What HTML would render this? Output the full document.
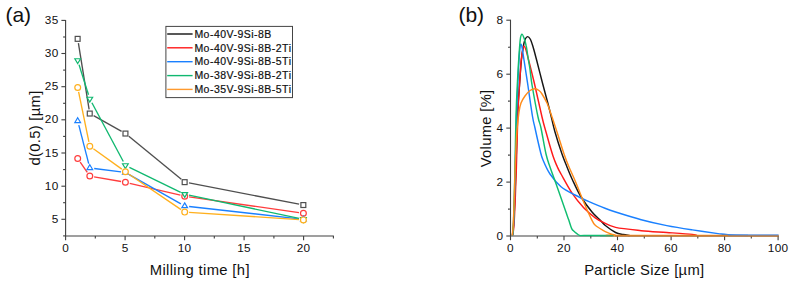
<!DOCTYPE html><html><head><meta charset="utf-8"><title>Milling time vs particle size</title>
<style>html,body{margin:0;padding:0;background:#fff}svg{display:block}text{font-family:"Liberation Sans",sans-serif;fill:#111}</style></head><body>
<svg width="793" height="285" viewBox="0 0 793 285">
<rect width="793" height="285" fill="#fff"/>
<g stroke="#404040" stroke-width="1.1" fill="none" shape-rendering="auto">
<path d="M65.6 19.9V236.0H333.85"/>
<path d="M61.4 219.3H65.6"/>
<path d="M61.4 186.2H65.6"/>
<path d="M61.4 153.0H65.6"/>
<path d="M61.4 119.8H65.6"/>
<path d="M61.4 86.7H65.6"/>
<path d="M61.4 53.5H65.6"/>
<path d="M61.4 20.4H65.6"/>
<path d="M63.1 235.9H65.6"/>
<path d="M63.1 202.7H65.6"/>
<path d="M63.1 169.6H65.6"/>
<path d="M63.1 136.4H65.6"/>
<path d="M63.1 103.3H65.6"/>
<path d="M63.1 70.1H65.6"/>
<path d="M63.1 37.0H65.6"/>
<path d="M65.6 236.0V240.2"/>
<path d="M125.1 236.0V240.2"/>
<path d="M184.6 236.0V240.2"/>
<path d="M244.1 236.0V240.2"/>
<path d="M303.6 236.0V240.2"/>
<path d="M95.3 236.0V238.5"/>
<path d="M154.8 236.0V238.5"/>
<path d="M214.3 236.0V238.5"/>
<path d="M273.9 236.0V238.5"/>
<path d="M333.4 236.0V238.5"/>
</g>
<g font-size="11.8" letter-spacing="0.35" text-anchor="end">
<text x="58.6" y="222.8">5</text>
<text x="58.6" y="189.7">10</text>
<text x="58.6" y="156.5">15</text>
<text x="58.6" y="123.3">20</text>
<text x="58.6" y="90.2">25</text>
<text x="58.6" y="57.0">30</text>
<text x="58.6" y="23.9">35</text>
</g>
<g font-size="11.8" letter-spacing="0.35" text-anchor="middle">
<text x="65.6" y="252.1">0</text>
<text x="125.1" y="252.1">5</text>
<text x="184.6" y="252.1">10</text>
<text x="244.1" y="252.1">15</text>
<text x="303.6" y="252.1">20</text>
</g>
<text x="199.8" y="274.6" font-size="14.8" letter-spacing="0.35" text-anchor="middle">Milling time [h]</text>
<text transform="translate(39.5 128.0) rotate(-90)" font-size="14.8" letter-spacing="0.3" text-anchor="middle">d(0.5) [µm]</text>
<text x="5.4" y="22.4" font-size="21">(a)</text>
<g stroke="#4f4f4f" stroke-width="1.35" fill="none" stroke-linecap="butt">
<path d="M78.4 43.2L89.1 109.3"/>
<path d="M93.6 115.7L121.6 131.4"/>
<path d="M128.8 136.3L181.3 179.3"/>
<path d="M189.0 182.9L299.1 204.2"/>
</g>
<g stroke="#4f4f4f" stroke-width="1.2" fill="#fff" stroke-linejoin="miter">
<rect x="75.2" y="36.4" width="4.9" height="4.9"/>
<rect x="87.3" y="111.1" width="4.9" height="4.9"/>
<rect x="123.0" y="131.1" width="4.9" height="4.9"/>
<rect x="182.2" y="179.7" width="4.9" height="4.9"/>
<rect x="300.9" y="202.6" width="4.9" height="4.9"/>
</g>
<g stroke="#ff3d3d" stroke-width="1.35" fill="none" stroke-linecap="butt">
<path d="M80.2 162.1L87.3 172.4"/>
<path d="M94.1 176.8L121.1 181.5"/>
<path d="M129.7 183.3L180.4 195.2"/>
<path d="M189.1 196.8L299.0 212.7"/>
</g>
<g stroke="#ff3d3d" stroke-width="1.2" fill="#fff" stroke-linejoin="miter">
<circle cx="77.7" cy="158.5" r="2.9"/>
<circle cx="89.8" cy="176.0" r="2.9"/>
<circle cx="125.4" cy="182.3" r="2.9"/>
<circle cx="184.7" cy="196.2" r="2.9"/>
<circle cx="303.4" cy="213.3" r="2.9"/>
</g>
<g stroke="#1a80ff" stroke-width="1.35" fill="none" stroke-linecap="butt">
<path d="M78.8 125.2L88.7 163.6"/>
<path d="M94.2 168.5L121.0 171.8"/>
<path d="M129.2 174.6L180.9 203.8"/>
<path d="M189.1 206.5L299.0 218.8"/>
</g>
<g stroke="#1a80ff" stroke-width="1.2" fill="#fff" stroke-linejoin="miter">
<path d="M77.7 117.75L80.55 122.55H74.85Z"/>
<path d="M89.8 164.75L92.65 169.55H86.95Z"/>
<path d="M125.4 169.25L128.25 174.05H122.55Z"/>
<path d="M184.7 202.85L187.55 207.65H181.85Z"/>
<path d="M303.4 216.15L306.25 220.95H300.55Z"/>
</g>
<g stroke="#10b870" stroke-width="1.35" fill="none" stroke-linecap="butt">
<path d="M79.0 64.6L88.5 94.7"/>
<path d="M91.9 102.8L123.3 161.5"/>
<path d="M129.4 167.3L180.7 192.3"/>
<path d="M189.0 195.1L299.1 218.4"/>
</g>
<g stroke="#10b870" stroke-width="1.2" fill="#fff" stroke-linejoin="miter">
<path d="M77.7 63.55L80.55 58.75H74.85Z"/>
<path d="M89.8 102.05L92.65 97.25H86.95Z"/>
<path d="M125.4 168.55L128.25 163.75H122.55Z"/>
<path d="M184.7 197.35L187.55 192.55H181.85Z"/>
<path d="M303.4 222.45L306.25 217.65H300.55Z"/>
</g>
<g stroke="#ffb01e" stroke-width="1.35" fill="none" stroke-linecap="butt">
<path d="M78.6 91.8L88.9 141.9"/>
<path d="M93.4 148.8L121.8 169.1"/>
<path d="M129.0 174.2L181.1 209.6"/>
<path d="M189.1 212.4L299.0 219.6"/>
</g>
<g stroke="#ffb01e" stroke-width="1.2" fill="#fff" stroke-linejoin="miter">
<circle cx="77.7" cy="87.5" r="2.9"/>
<circle cx="89.8" cy="146.2" r="2.9"/>
<circle cx="125.4" cy="171.7" r="2.9"/>
<circle cx="184.7" cy="212.1" r="2.9"/>
<circle cx="303.4" cy="219.9" r="2.9"/>
</g>
<rect x="166.8" y="27.3" width="127.2" height="71.6" fill="#9a9a9a" opacity="0"/>
<rect x="165.9" y="26.4" width="126.6" height="71.2" fill="#fff" stroke="#444" stroke-width="1"/>
<path d="M167.2 34.0H192.6" stroke="#111" stroke-width="1.4"/>
<text x="194.4" y="37.7" font-size="10.5" letter-spacing="0.48" stroke="#111" stroke-width="0.2">Mo-40V-9Si-8B</text>
<path d="M167.2 47.8H192.6" stroke="#ff1a1a" stroke-width="1.4"/>
<text x="194.4" y="51.5" font-size="10.5" letter-spacing="0.48" stroke="#111" stroke-width="0.2">Mo-40V-9Si-8B-2Ti</text>
<path d="M167.2 61.7H192.6" stroke="#1a80ff" stroke-width="1.4"/>
<text x="194.4" y="65.4" font-size="10.5" letter-spacing="0.48" stroke="#111" stroke-width="0.2">Mo-40V-9Si-8B-5Ti</text>
<path d="M167.2 75.6H192.6" stroke="#10b870" stroke-width="1.4"/>
<text x="194.4" y="79.3" font-size="10.5" letter-spacing="0.48" stroke="#111" stroke-width="0.2">Mo-38V-9Si-8B-2Ti</text>
<path d="M167.2 89.4H192.6" stroke="#ff9a2e" stroke-width="1.4"/>
<text x="194.4" y="93.1" font-size="10.5" letter-spacing="0.48" stroke="#111" stroke-width="0.2">Mo-35V-9Si-8B-5Ti</text>
<g stroke="#404040" stroke-width="1.1" fill="none">
<path d="M510.5 19.7V236.0H778.6"/>
<path d="M506.3 236.0H510.5"/>
<path d="M506.3 182.1H510.5"/>
<path d="M506.3 128.1H510.5"/>
<path d="M506.3 74.2H510.5"/>
<path d="M506.3 20.2H510.5"/>
<path d="M508.0 209.1H510.5"/>
<path d="M508.0 155.1H510.5"/>
<path d="M508.0 101.1H510.5"/>
<path d="M508.0 47.2H510.5"/>
<path d="M510.5 236.0V240.2"/>
<path d="M564.0 236.0V240.2"/>
<path d="M617.5 236.0V240.2"/>
<path d="M671.1 236.0V240.2"/>
<path d="M724.6 236.0V240.2"/>
<path d="M778.1 236.0V240.2"/>
<path d="M537.3 236.0V238.5"/>
<path d="M590.8 236.0V238.5"/>
<path d="M644.3 236.0V238.5"/>
<path d="M697.8 236.0V238.5"/>
<path d="M751.3 236.0V238.5"/>
</g>
<g font-size="11.8" letter-spacing="0.35" text-anchor="end">
<text x="503.5" y="239.5">0</text>
<text x="503.5" y="185.6">2</text>
<text x="503.5" y="131.6">4</text>
<text x="503.5" y="77.7">6</text>
<text x="503.5" y="23.7">8</text>
</g>
<g font-size="11.8" letter-spacing="0.35" text-anchor="middle">
<text x="510.5" y="252.4">0</text>
<text x="564.0" y="252.4">20</text>
<text x="617.5" y="252.4">40</text>
<text x="671.1" y="252.4">60</text>
<text x="724.6" y="252.4">80</text>
<text x="778.1" y="252.4">100</text>
</g>
<text x="644.3" y="274.6" font-size="14.8" letter-spacing="0.26" text-anchor="middle">Particle Size [µm]</text>
<text transform="translate(490.5 128.4) rotate(-90)" font-size="14.8" letter-spacing="0.3" text-anchor="middle">Volume [%]</text>
<text x="458.4" y="22.4" font-size="21">(b)</text>
<g fill="none" stroke-width="1.45" stroke-linejoin="round" stroke-linecap="butt">
<path d="M512.3 235.5C512.5 233.8 513.2 230.9 513.6 225.0C514.0 219.1 514.4 209.7 514.8 200.0C515.2 190.3 515.6 180.8 516.0 167.0C516.4 153.2 516.8 130.7 517.4 117.0C518.0 103.3 518.8 94.5 519.5 85.0C520.2 75.5 520.7 66.8 521.4 60.0C522.1 53.2 523.1 47.5 523.8 44.0C524.5 40.5 524.8 40.0 525.4 38.8C526.0 37.6 526.8 36.6 527.6 36.6C528.4 36.6 529.3 37.4 530.2 39.0C531.1 40.6 531.7 42.5 532.8 46.0C533.9 49.5 535.1 54.3 536.6 60.0C538.1 65.7 540.0 73.3 541.7 80.0C543.4 86.7 545.5 94.3 547.0 100.0C548.5 105.7 549.3 108.7 550.6 114.0C551.9 119.3 553.1 125.3 555.0 132.0C556.9 138.7 560.0 148.2 562.0 154.0C564.0 159.8 565.3 162.7 567.0 167.0C568.7 171.3 570.1 174.8 572.4 179.7C574.7 184.6 577.5 191.1 580.8 196.5C584.1 201.9 588.7 208.0 592.0 212.0C595.3 216.0 598.3 218.2 600.5 220.4C602.7 222.6 602.5 223.2 605.0 225.2C607.5 227.2 612.6 230.9 615.6 232.5C618.6 234.1 620.9 234.0 623.3 234.5C625.6 235.0 628.6 235.3 629.7 235.5" stroke="#161616"/>
<path d="M512.8 235.5C513.0 233.8 513.6 230.9 514.0 225.0C514.4 219.1 514.8 209.7 515.2 200.0C515.6 190.3 516.0 180.8 516.4 167.0C516.8 153.2 517.3 130.7 517.8 117.0C518.3 103.3 518.9 94.5 519.5 85.0C520.1 75.5 520.6 66.1 521.2 60.0C521.8 53.9 522.5 50.8 523.0 48.5C523.5 46.2 523.8 46.0 524.3 46.3C524.8 46.5 525.3 47.7 526.0 50.0C526.7 52.3 527.1 54.0 528.6 60.0C530.1 66.0 532.8 76.5 535.0 86.0C537.2 95.5 540.2 109.3 542.0 117.0C543.8 124.7 544.2 125.5 546.0 132.0C547.8 138.5 551.1 150.2 553.0 156.0C554.9 161.8 556.1 164.0 557.4 167.0C558.7 170.0 558.5 169.6 561.0 174.0C563.5 178.4 568.6 188.1 572.4 193.7C576.2 199.3 580.0 203.8 583.7 207.8C587.5 211.8 591.7 215.2 594.9 217.6C598.1 220.0 599.3 220.6 602.8 222.2C606.2 223.8 609.2 226.0 615.6 227.4C622.0 228.8 632.7 229.8 641.2 230.7C649.7 231.5 658.3 231.9 666.8 232.5C675.3 233.1 687.4 233.9 692.4 234.4C697.4 234.9 696.2 235.3 697.0 235.5" stroke="#ff1a1a"/>
<path d="M512.5 235.5C512.7 233.8 513.2 230.9 513.5 225.0C513.8 219.1 514.1 209.7 514.4 200.0C514.7 190.3 514.9 180.8 515.3 167.0C515.6 153.2 516.1 130.7 516.5 117.0C516.9 103.3 517.4 94.5 517.8 85.0C518.2 75.5 518.6 66.2 519.0 60.0C519.4 53.8 519.7 50.1 520.0 47.5C520.3 44.9 520.5 44.2 520.9 44.3C521.3 44.4 521.7 45.4 522.2 48.0C522.7 50.6 523.0 53.7 524.0 60.0C525.0 66.3 526.6 76.5 528.0 86.0C529.4 95.5 531.4 110.0 532.6 117.0C533.8 124.0 533.8 122.5 535.0 128.0C536.2 133.5 538.7 144.7 540.0 150.0C541.3 155.3 541.3 156.0 543.0 160.0C544.7 164.0 547.0 169.6 550.0 174.0C553.0 178.4 556.8 183.2 561.0 186.7C565.2 190.2 570.3 192.5 575.0 195.0C579.7 197.5 584.0 199.4 589.0 201.6C594.0 203.8 600.6 206.6 605.0 208.3C609.4 210.0 609.6 210.1 615.6 212.0C621.6 213.9 632.7 217.4 641.2 219.7C649.7 222.0 658.3 223.9 666.8 225.6C675.3 227.3 683.9 228.6 692.4 229.9C700.9 231.2 712.1 232.8 718.0 233.6C723.9 234.4 723.0 234.4 728.0 234.7C733.0 235.0 744.7 235.4 748.0 235.5" stroke="#1a80ff"/>
<path d="M512.6 235.5C512.7 233.8 513.1 230.9 513.4 225.0C513.7 219.1 513.9 209.7 514.2 200.0C514.5 190.3 514.7 180.8 515.0 167.0C515.3 153.2 515.6 130.7 516.0 117.0C516.4 103.3 516.8 94.5 517.3 85.0C517.8 75.5 518.2 67.5 518.7 60.0C519.2 52.5 519.7 44.3 520.2 40.0C520.7 35.7 521.2 34.5 521.9 34.2C522.6 34.0 523.5 36.5 524.2 38.5C524.9 40.5 525.6 42.8 526.2 46.0C526.9 49.2 527.5 54.3 528.1 58.0C528.7 61.7 529.1 63.3 529.8 68.0C530.5 72.7 530.8 77.8 532.2 86.0C533.6 94.2 536.5 110.0 538.0 117.0C539.5 124.0 539.7 121.8 541.0 128.0C542.3 134.2 544.5 147.5 546.0 154.0C547.5 160.5 548.4 162.2 550.0 167.0C551.6 171.8 553.0 175.2 555.6 182.5C558.2 189.8 563.2 204.4 565.4 210.6C567.6 216.8 567.6 216.6 568.6 219.6C569.6 222.6 570.8 226.6 571.6 228.4C572.4 230.2 572.4 229.8 573.2 230.6C574.0 231.4 575.4 232.6 576.5 233.4C577.6 234.2 578.5 235.2 579.8 235.5C581.0 235.8 578.6 235.5 584.0 235.5C589.4 235.5 607.3 235.5 612.0 235.5" stroke="#10bd70"/>
<path d="M512.2 235.5C512.4 233.8 512.9 230.9 513.2 225.0C513.5 219.1 513.9 209.7 514.2 200.0C514.5 190.3 514.8 177.8 515.2 167.0C515.6 156.2 516.0 144.2 516.6 135.0C517.2 125.8 518.3 117.3 519.0 112.0C519.7 106.7 520.0 105.7 521.0 103.0C522.0 100.3 523.5 98.1 525.0 96.0C526.5 93.9 528.3 91.7 530.0 90.5C531.7 89.3 533.5 88.8 535.0 88.8C536.5 88.8 537.8 89.6 539.0 90.5C540.2 91.4 540.7 91.9 542.0 94.0C543.3 96.1 545.5 99.7 547.0 103.0C548.5 106.3 549.3 109.2 551.0 114.0C552.7 118.8 554.8 125.3 557.0 132.0C559.2 138.7 562.0 148.2 564.0 154.0C566.0 159.8 567.1 162.5 569.0 167.0C570.9 171.5 572.8 175.2 575.2 181.0C577.7 186.8 580.9 195.4 583.7 202.0C586.5 208.6 590.1 216.6 592.0 220.4C593.9 224.2 593.7 223.7 595.0 225.0C596.3 226.3 598.3 227.4 600.0 228.5C601.7 229.6 603.6 230.8 605.3 231.6C607.0 232.4 608.4 233.0 610.0 233.6C611.6 234.2 613.5 234.7 615.0 235.0C616.5 235.3 591.7 235.4 619.0 235.5C646.3 235.6 752.0 235.5 778.6 235.5" stroke="#ff8c1a"/>
</g>
<path d="M615 235.8H778.6" stroke="#c87a32" stroke-width="1.3"/>
<path d="M600 235.7H613.5" stroke="#2aa672" stroke-width="1.2"/>
<path d="M728 234.9H778.6" stroke="#2a86ff" stroke-width="0.9"/>
</svg></body></html>
